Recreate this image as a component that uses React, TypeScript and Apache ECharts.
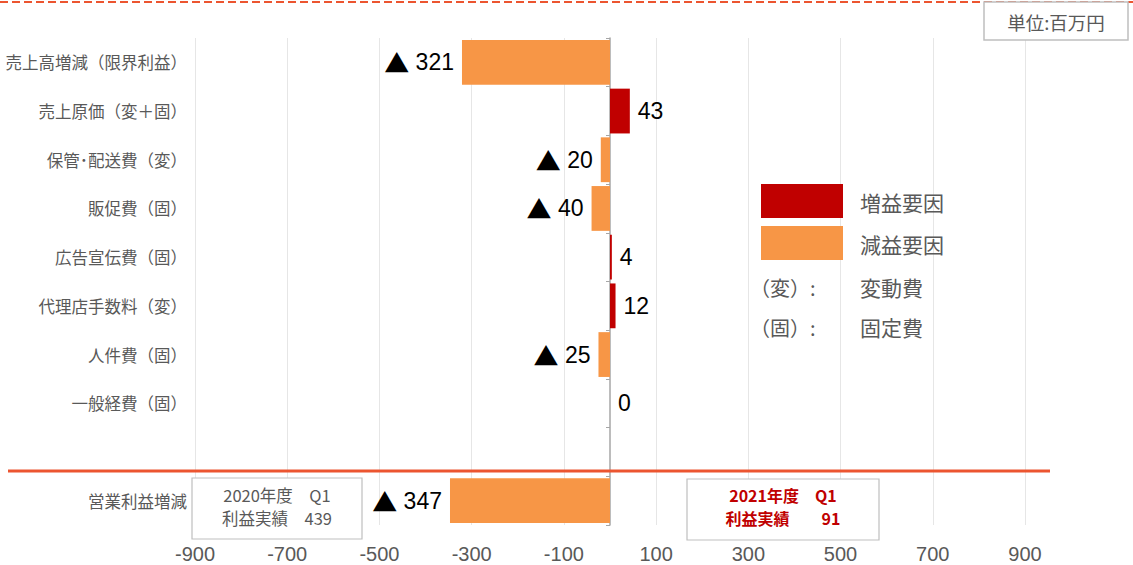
import React, { useEffect, useRef } from "react";
import * as echarts from "echarts";

const categories = [
  "売上高増減（限界利益）",
  "売上原価（変＋固）",
  "保管･配送費（変）",
  "販促費（固）",
  "広告宣伝費（固）",
  "代理店手数料（変）",
  "人件費（固）",
  "一般経費（固）",
  "",
  "営業利益増減",
];
const values: (number | null)[] = [-321, 43, -20, -40, 4, 12, -25, 0, null, -347];
const X_MIN = -900;
const X_MAX = 900;
const X_STEP = 200;

const RED = "#C00000";
const ORANGE = "#F79646";
const GRAY_TEXT = "#595959";
const LINE_RED = "#EC5530";
const CJK = "'Noto Sans CJK JP', 'Noto Sans', sans-serif";
const NUM = "'Liberation Sans', 'DejaVu Sans', sans-serif";

export default function App() {
  const ref = useRef<HTMLDivElement>(null);
  useEffect(() => {
    if (!ref.current) return;
    const chart = echarts.init(ref.current, null, { renderer: "svg" });
    const data = values.map((v) =>
      v === null
        ? null
        : {
            value: v,
            itemStyle: { color: v >= 0 ? RED : ORANGE },
            label: { position: v < 0 ? "left" : "right" },
          }
    );
    const txt = (x: number, y: number, text: string, opts: any = {}) => ({
      type: "text",
      x,
      y,
      z: 100,
      style: {
        text,
        fill: opts.fill || GRAY_TEXT,
        font: opts.font || `21px ${CJK}`,
        align: opts.align || "left",
        textAlign: opts.align || "left",
        verticalAlign: "middle",
        textVerticalAlign: "middle",
        lineHeight: opts.lineHeight,
      },
    });
    chart.setOption({
      animation: false,
      backgroundColor: "#fff",
      grid: { left: 195, right: 108, top: 38, height: 487, containLabel: false },
      xAxis: {
        type: "value",
        min: X_MIN,
        max: X_MAX,
        interval: X_STEP,
        axisLine: { show: false },
        axisTick: { show: false },
        splitLine: { lineStyle: { color: "#E6E6E6", width: 1 } },
        axisLabel: { color: GRAY_TEXT, fontFamily: NUM, fontSize: 20, margin: 19 },
      },
      yAxis: [
        {
          type: "category",
          data: categories,
          inverse: true,
          position: "left",
          axisLine: { show: false, onZero: false },
          axisTick: { show: false },
          axisLabel: { color: GRAY_TEXT, fontFamily: CJK, fontSize: 16.5, margin: 8 },
        },
        {
          type: "category",
          data: categories,
          inverse: true,
          position: "left",
          axisLine: { show: true, onZero: true, lineStyle: { color: "#A6A6A6", width: 1.5 } },
          axisTick: { show: true, length: 4, lineStyle: { color: "#A6A6A6" } },
          axisLabel: { show: false },
        },
      ],
      series: [
        {
          type: "bar",
          yAxisIndex: 0,
          data,
          barCategoryGap: "8%",
          label: {
            show: true,
            fontFamily: NUM,
            fontSize: 23,
            color: "#000",
            distance: 8,
            formatter: (p: any) =>
              p.value < 0 ? "{t|▲}{n| " + Math.abs(p.value) + "}" : "{n|" + p.value + "}",
            rich: {
              t: { fontFamily: "'Noto Sans CJK JP', sans-serif", fontSize: 25, color: "#000", lineHeight: 28 },
              n: { fontFamily: NUM, fontSize: 23, color: "#000", lineHeight: 28 },
            },
          },
        },
      ],
      graphic: [
        {
          type: "line",
          z: 90,
          shape: { x1: 0, y1: 2, x2: 1133, y2: 2 },
          style: { stroke: LINE_RED, lineWidth: 2, lineDash: [8, 4] },
        },
        {
          type: "rect",
          z: 95,
          shape: { x: 984, y: 2, width: 144, height: 38 },
          style: { fill: "#fff", stroke: "#BFBFBF", lineWidth: 1.5 },
        },
        txt(1056, 22, "単位:百万円", { align: "center", font: `18.5px ${CJK}` }),
        {
          type: "line",
          z: 90,
          shape: { x1: 8, y1: 471, x2: 1050, y2: 471 },
          style: { stroke: LINE_RED, lineWidth: 3 },
        },
        // legend
        {
          type: "rect",
          z: 95,
          shape: { x: 761, y: 184, width: 82, height: 34 },
          style: { fill: RED },
        },
        {
          type: "rect",
          z: 95,
          shape: { x: 761, y: 226, width: 82, height: 34 },
          style: { fill: ORANGE },
        },
        txt(860, 202, "増益要因"),
        txt(860, 244, "減益要因"),
        txt(750, 287, "（変）:", { font: `20px ${CJK}` }),
        txt(860, 287, "変動費"),
        txt(750, 327, "（固）:", { font: `20px ${CJK}` }),
        txt(860, 327, "固定費"),
        // result boxes
        {
          type: "rect",
          z: 95,
          shape: { x: 192, y: 478, width: 170, height: 61 },
          style: { fill: "#fff", stroke: "#BFBFBF", lineWidth: 1.2 },
        },
        txt(277, 506, "2020年度　Q1\n利益実績　439", {
          align: "center",
          font: `16.5px ${CJK}`,
          lineHeight: 23,
        }),
        {
          type: "rect",
          z: 95,
          shape: { x: 687, y: 479, width: 192, height: 61 },
          style: { fill: "#fff", stroke: "#BFBFBF", lineWidth: 1.2 },
        },
        txt(783, 506, "2021年度　Q1\n利益実績　　91", {
          align: "center",
          font: `bold 16px ${CJK}`,
          fill: RED,
          lineHeight: 23,
        }),
      ],
    });
    return () => chart.dispose();
  }, []);
  return (
    <div
      ref={ref}
      style={{ position: "absolute", left: 0, top: 0, width: 1133, height: 565 }}
    />
  );
}
